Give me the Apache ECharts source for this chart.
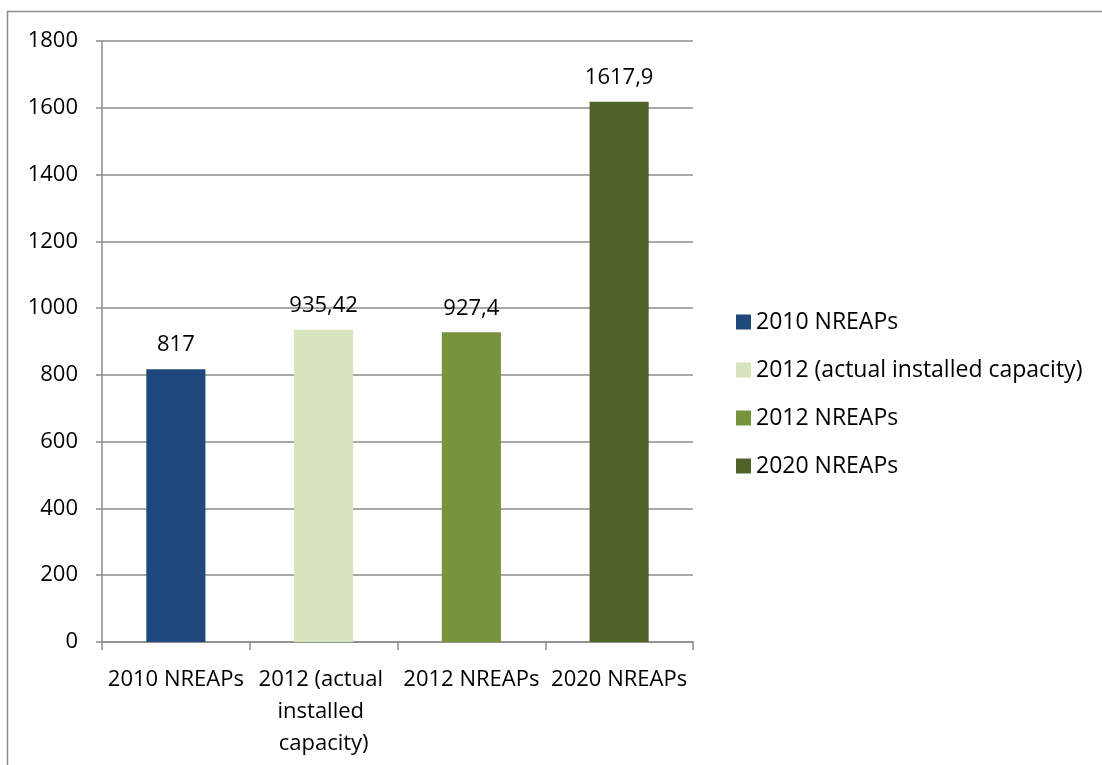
<!DOCTYPE html>
<html><head><meta charset="utf-8">
<script src="https://cdn.jsdelivr.net/npm/echarts@6/dist/echarts.min.js"></script>
<style>html,body{margin:0;padding:0;background:#fff}#c{width:1102px;height:765px}</style>
</head><body><div id="c"></div>
<script>
const categories = ['2010 NREAPs', '2012 (actual installed capacity)', '2012 NREAPs', '2020 NREAPs'];
const values = [817, 935.42, 927.4, 1617.9];
const colors = ['#1F497D', '#D7E4BD', '#77933C', '#4F6228'];
const yTicks = {min: 0, max: 1800, interval: 200};

const FONT = 'Open Sans';
const FS = 22;
const chart = echarts.init(document.getElementById('c'));
const series = categories.map((name, i) => ({
  name: name,
  type: 'bar',
  stack: 'all',
  barWidth: '40%',
  itemStyle: {color: colors[i]},
  label: {
    show: true, position: 'top', distance: 13,
    color: '#000', fontFamily: FONT, fontSize: FS,
    formatter: p => String(p.value).replace('.', ',')
  },
  data: categories.map((c, j) => j === i ? values[i] : null)
}));
chart.setOption({
  animation: false,
  textStyle: {fontFamily: FONT},
  graphic: [{type: 'rect', shape: {x: 7.5, y: 11.5, width: 1300, height: 1000},
    style: {fill: 'none', stroke: '#8c8c8c', lineWidth: 1.5}, silent: true}],
  grid: {left: 102, right: 409, top: 41, bottom: 123},
  legend: {
    orient: 'vertical', left: 736, top: 308, itemGap: 20, padding: 0,
    itemWidth: 15, itemHeight: 15, icon: 'rect',
    textStyle: {fontFamily: FONT, fontSize: 23, color: '#000', lineHeight: 28},
    data: categories
  },
  xAxis: {
    type: 'category', data: categories,
    axisLine: {lineStyle: {color: '#8c8c8c', width: 1.5}},
    axisTick: {show: true, length: 8, alignWithLabel: false, lineStyle: {color: '#8c8c8c', width: 1.5}},
    axisLabel: {color: '#000', fontFamily: FONT, fontSize: FS, margin: 22, interval: 0,
      width: 150, overflow: 'break', lineHeight: 32}
  },
  yAxis: {
    type: 'value', min: yTicks.min, max: yTicks.max, interval: yTicks.interval,
    axisLine: {show: true, lineStyle: {color: '#8c8c8c', width: 1.5}},
    axisTick: {show: true, length: 6, lineStyle: {color: '#8c8c8c', width: 1.5}},
    splitLine: {lineStyle: {color: '#8c8c8c', width: 1.5}},
    axisLabel: {color: '#000', fontFamily: FONT, fontSize: FS, margin: 24, formatter: v => String(v)}
  },
  series: series
});
</script></body></html>
